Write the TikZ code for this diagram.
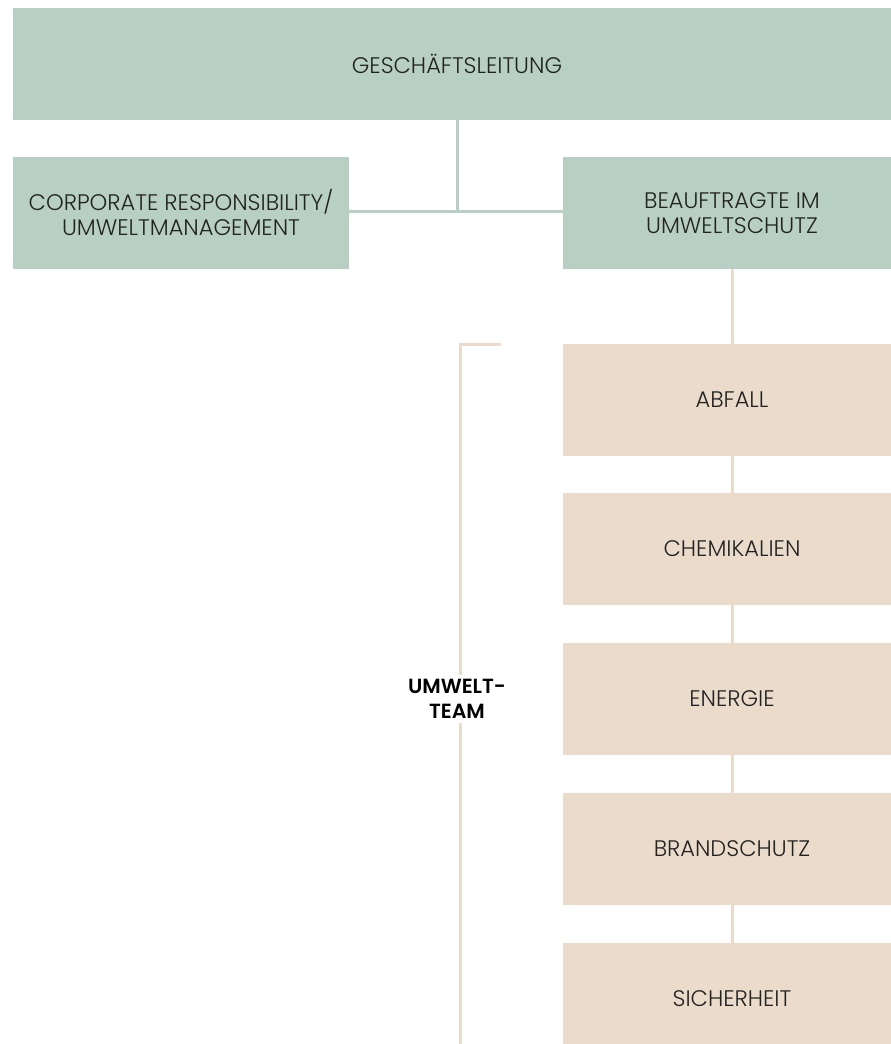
\documentclass[tikz,border=0pt]{standalone}
\usepackage{fontspec}
\setmainfont{Poppins}[UprightFont=* Light, BoldFont=* SemiBold]
\definecolor{leitgruen}{HTML}{B8CFC4}
\definecolor{teambeige}{HTML}{EADBCB}
\definecolor{schrift}{HTML}{222222}
\tikzset{
  gruenbox/.style={fill=leitgruen, text=schrift, align=center, inner sep=0pt,
    minimum height=112pt, font=\fontsize{22.5}{25}\selectfont},
  beigebox/.style={fill=teambeige, text=schrift, align=center, inner sep=0pt,
    minimum width=338pt, minimum height=112pt, font=\fontsize{22.5}{25}\selectfont},
  gruenlinie/.style={draw=leitgruen, line width=3pt},
  beigelinie/.style={draw=teambeige, line width=3pt}
}
\begin{document}
\begin{tikzpicture}[x=1pt,y=-1pt]
  \useasboundingbox (0,0) rectangle (891,1044);
  \begin{scope}
    \clip (0,0) rectangle (891,1044);
    \node[gruenbox, minimum width=888pt] (gl) at (457,64) {GESCHÄFTSLEITUNG};
    \node[gruenbox, minimum width=336pt] (cr) at (181,213) {CORPORATE RESPONSIBILITY/\\UMWELTMANAGEMENT};
    \node[gruenbox, minimum width=338pt] (bu) at (732,213) {BEAUFTRAGTE IM\\UMWELTSCHUTZ};
    \node[beigebox] (abfall) at (732,400) {ABFALL};
    \node[beigebox] (chemie) at (732,549) {CHEMIKALIEN};
    \node[beigebox] (energie) at (732,699) {ENERGIE};
    \node[beigebox] (brand) at (732,849) {BRANDSCHUTZ};
    \node[beigebox] (sicher) at (732,999) {SICHERHEIT};
  \end{scope}
  \node[text=black, align=center, inner sep=4pt,
    font=\fontsize{20.5}{25}\selectfont\bfseries] (team) at (457,699) {UMWELT-\\TEAM};
  \coordinate (knoten) at (457,211);
  \coordinate (klammer) at (501,344);
  \coordinate (klammerfuss) at (460,1044);
  \begin{scope}[gruenlinie]
    \draw (gl.south) to (knoten);
    \draw (cr.east |- knoten) to (bu.west |- knoten);
  \end{scope}
  \begin{scope}[beigelinie]
    \draw (bu.south) to (abfall.north);
    \draw (abfall.south) to (chemie.north);
    \draw (chemie.south) to (energie.north);
    \draw (energie.south) to (brand.north);
    \draw (brand.south) to (sicher.north);
    \draw (klammer) -- (klammerfuss |- klammer) -- (klammerfuss |- team.north);
    \draw (klammerfuss |- team.south) -- (klammerfuss);
  \end{scope}
\end{tikzpicture}
\end{document}
